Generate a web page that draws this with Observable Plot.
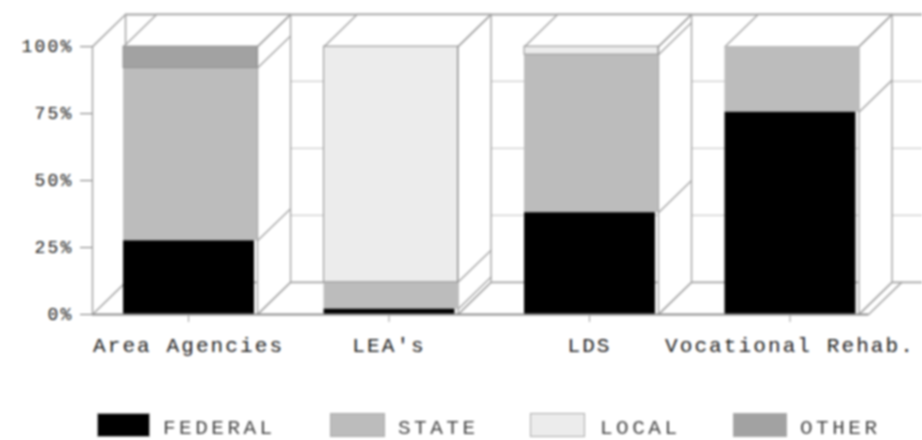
<!DOCTYPE html>
<html>
<head>
<meta charset="utf-8">
<script src="https://cdn.jsdelivr.net/npm/d3@7"></script>
<script src="https://cdn.jsdelivr.net/npm/@observablehq/plot@0.6"></script>
<style>
  html, body { margin: 0; padding: 0; background: #fff; overflow: hidden; }
  #wrap { position: relative; width: 922px; height: 440px; filter: blur(0.9px); }
  #wrap svg { position: absolute; left: 0; top: 0; background: #fff; }
  #wrap svg text { font-family: "Liberation Mono", monospace; fill: #222; }
  .sw { position: absolute; top: 413px; height: 24px; box-sizing: border-box; border: 1px solid #aaa; }
  .lb { position: absolute; top: 417px; font: 21px "Liberation Mono", monospace; letter-spacing: 3.5px; color: #444; line-height: 24px; }
</style>
</head>
<body>
<div id="wrap"></div>
<script>
const categories = ["Area Agencies", "LEA's", "LDS", "Vocational Rehab."];
const seriesNames = ["FEDERAL", "STATE", "LOCAL", "OTHER"];
const seriesColors = ["#000000", "#bcbcbc", "#ececec", "#a2a2a2"];
const federal = [27.5, 2, 38, 75.5];
const state = [64.5, 10, 59, 24.5];
const local = [0, 88, 3, 0];
const other = [8, 0, 0, 0];
const yTicks = [0, 25, 50, 75, 100];

// 3-D frame geometry in data units
const halfBar = 0.334, depthX = 0.165, depthY = 12, yMax = 100 + depthY;
const frameLeft = -0.489, frameRight = 3.651, wallRight = 3.5;
const lineColor = "#a4a4a4";

const values = [federal, state, local, other];
const rows = [];
const edges = [];
categories.forEach((c, i) => {
  let sum = 0;
  edges.push({i, v: 0});
  seriesNames.forEach((s, k) => {
    const v = values[k][i];
    if (v > 0) {
      rows.push({i, series: s, y1: sum, y2: sum + v});
      sum += v;
      edges.push({i, v: sum});
    }
  });
});

const idx = categories.map((c, i) => i);
const face = (i, pts) => pts.map(([x, y]) => ({i, x: i + x, y}));
const tops = idx.map(i => face(i, [[-halfBar, 100], [-halfBar + depthX, yMax], [halfBar + depthX, yMax], [halfBar, 100], [-halfBar, 100]]));
const sides = idx.map(i => face(i, [[halfBar, 0], [halfBar + depthX, depthY], [halfBar + depthX, yMax], [halfBar, 100], [halfBar, 0]]));
const faceOpts = {x: "x", y: "y", z: "i", fill: "white", stroke: lineColor, strokeWidth: 1.4};
const frameLine = (a, b) => Plot.line([{x: a[0], y: a[1]}, {x: b[0], y: b[1]}], {x: "x", y: "y", stroke: lineColor, strokeWidth: 1.5});

const chart = Plot.plot({
  width: 922, height: 370,
  marginLeft: 92, marginRight: 0, marginTop: 14, marginBottom: 56,
  x: {type: "linear", domain: [frameLeft, frameRight]},
  y: {domain: [0, yMax]},
  color: {domain: seriesNames, range: seriesColors},
  marks: [
    // back wall grid, floor back edge and top edge
    Plot.ruleY(yTicks.filter(v => v > 0 && v < 100).map(v => v + depthY), {x1: frameLeft + depthX, x2: frameRight, stroke: "#cccccc", strokeWidth: 1.2}),
    Plot.ruleY([depthY], {x1: frameLeft + depthX, x2: frameRight, stroke: lineColor, strokeWidth: 1.8}),
    Plot.ruleY([yMax], {x1: frameLeft + depthX, x2: frameRight, stroke: lineColor, strokeWidth: 1.8}),
    // left wall
    frameLine([frameLeft + depthX, depthY], [frameLeft + depthX, yMax]),
    frameLine([frameLeft, 100], [frameLeft + depthX, yMax]),
    frameLine([frameLeft, 0], [frameLeft + depthX, depthY]),
    // right end of the floor
    frameLine([wallRight - depthX + 0.047, 0], [wallRight + 0.047, depthY]),
    // top and side faces of each bar
    Plot.line(tops.flat(), faceOpts),
    Plot.line(sides.flat(), faceOpts),
    Plot.link(edges, {
      x1: d => d.i + halfBar, y1: "v",
      x2: d => d.i + halfBar + depthX, y2: d => d.v + depthY,
      stroke: lineColor, strokeWidth: 1.4
    }),
    // stacked bars; the black federal segment sits slightly narrower, as in the source
    Plot.rectY(rows.filter(d => d.series !== "FEDERAL"), {
      x1: d => d.i - halfBar, x2: d => d.i + halfBar,
      y1: "y1", y2: "y2", fill: "series"
    }),
    Plot.rectY(rows.filter(d => d.series === "LOCAL" || d.series === "OTHER"), {
      x1: d => d.i - halfBar, x2: d => d.i + halfBar,
      y1: "y1", y2: "y2", fill: "none", stroke: "#8f8f8f", strokeWidth: 1
    }),
    Plot.rectY(rows.filter(d => d.series === "FEDERAL"), {
      x1: d => d.i - halfBar, x2: d => d.i + halfBar,
      y1: "y1", y2: "y2", fill: "series", insetRight: 3
    }),
    // front edges
    Plot.ruleY([0], {x1: frameLeft, x2: wallRight - depthX + 0.047, stroke: "#8c8c8c", strokeWidth: 1.8}),
    Plot.ruleX([frameLeft], {y1: 0, y2: 100, stroke: lineColor, strokeWidth: 1.5}),
    Plot.axisY({ticks: yTicks, tickFormat: d => d + "%", tickSize: 12, tickPadding: 7, fontSize: 18, label: null, anchor: "left", stroke: "#777"}),
    Plot.axisX({ticks: idx, tickFormat: i => categories[i], tickSize: 8, tickPadding: 15, fontSize: 21, label: null, stroke: "#999", dx: -2})
  ]
});

const wrap = document.getElementById("wrap");
chart.querySelectorAll("[aria-label='y-axis tick label']").forEach(n => n.style.letterSpacing = "2.2px");
chart.querySelectorAll("[aria-label='x-axis tick label']").forEach(n => n.style.letterSpacing = "2.1px");
wrap.appendChild(chart);

const swatchLeft = [97, 330, 530, 733], swatchWidth = [53, 55, 55, 54], labelLeft = [163, 398, 600, 800];
seriesNames.forEach((s, k) => {
  const sw = document.createElement("div");
  sw.className = "sw";
  sw.style.left = swatchLeft[k] + "px";
  sw.style.width = swatchWidth[k] + "px";
  sw.style.background = seriesColors[k];
  wrap.appendChild(sw);
  const lb = document.createElement("div");
  lb.className = "lb";
  lb.style.left = labelLeft[k] + "px";
  lb.textContent = s;
  wrap.appendChild(lb);
});
</script>
</body>
</html>
